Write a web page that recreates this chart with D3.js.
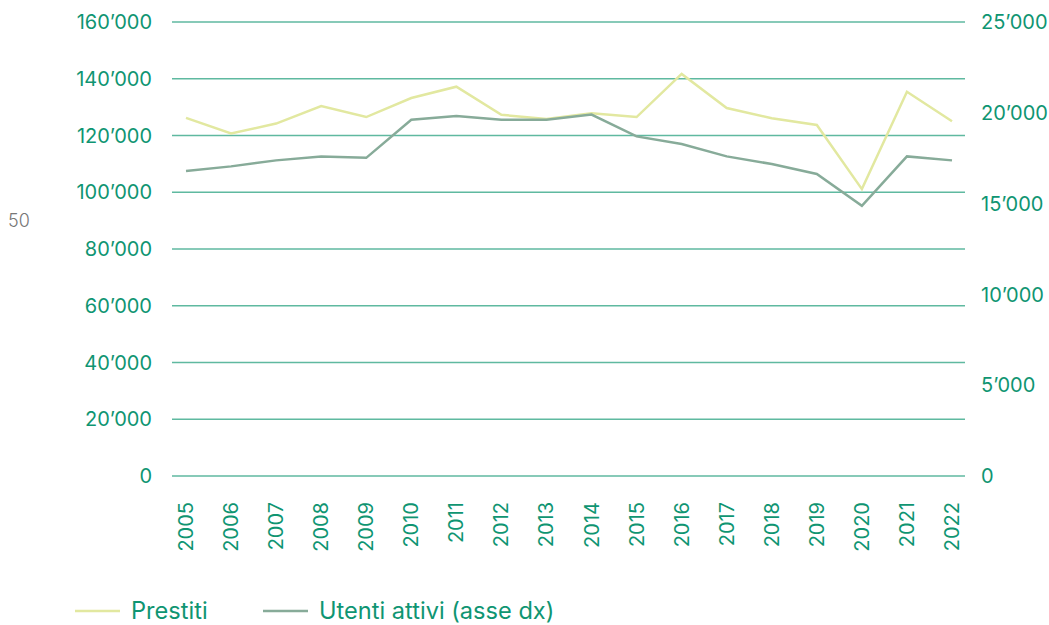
<!DOCTYPE html>
<html>
<head>
<meta charset="utf-8">
<script src="https://d3js.org/d3.v7.min.js"></script>
<style>
body { margin: 0; background: #fff; }
svg { display: block; font-family: Inter, "Noto Sans", sans-serif; }
</style>
</head>
<body>
<svg></svg>
<script>
var width = 1049, height = 625;

// data
var years = [2005, 2006, 2007, 2008, 2009, 2010, 2011, 2012, 2013, 2014, 2015, 2016, 2017, 2018, 2019, 2020, 2021, 2022];
var prestiti = [126200, 120700, 124200, 130400, 126500, 133200, 137200, 127300, 125800, 127800, 126500, 141700, 129700, 126100, 123700, 101100, 135400, 125000];
var utenti = [16800, 17050, 17380, 17600, 17520, 19620, 19830, 19620, 19620, 19900, 18700, 18280, 17600, 17180, 16630, 14880, 17600, 17380];
var leftTicks = [0, 20000, 40000, 60000, 80000, 100000, 120000, 140000, 160000];
var rightTicks = [0, 5000, 10000, 15000, 20000, 25000];

var teal = "#0f9572";
var gridCol = "#5fb9a0";

var svg = d3.select("svg").attr("width", width).attr("height", height);

var x = d3.scalePoint().domain(years).range([186, 952]);
var yL = d3.scaleLinear().domain([0, 160000]).range([476, 22]);
var yR = d3.scaleLinear().domain([0, 25000]).range([476, 22]);

var fmt = function (v) { return d3.format(",")(v).replace(/,/g, "\u2019"); };

// gridlines
svg.append("g").selectAll("line").data(leftTicks).enter().append("line")
	.attr("x1", 172).attr("x2", 965)
	.attr("y1", function (d) { return yL(d); })
	.attr("y2", function (d) { return yL(d); })
	.attr("stroke", gridCol).attr("stroke-width", 1.3);

// left axis labels
svg.append("g").selectAll("text").data(leftTicks).enter().append("text")
	.attr("x", 152).attr("y", function (d) { return yL(d); })
	.attr("dy", "0.36em").attr("text-anchor", "end")
	.attr("fill", teal).style("font-size", "20px")
	.text(fmt);

// right axis labels
svg.append("g").selectAll("text").data(rightTicks).enter().append("text")
	.attr("x", 981).attr("y", function (d) { return yR(d); })
	.attr("dy", "0.36em").attr("text-anchor", "start")
	.attr("fill", teal).style("font-size", "20px")
	.text(fmt);

// year labels, rotated
svg.append("g").selectAll("text").data(years).enter().append("text")
	.attr("transform", function (d) { return "translate(" + (x(d) + 7) + ",502) rotate(-90)"; })
	.attr("text-anchor", "end")
	.attr("fill", teal).style("font-size", "20px")
	.text(function (d) { return d; });

// lines
var lineL = d3.line().x(function (d, i) { return x(years[i]); }).y(function (d) { return yL(d); });
var lineR = d3.line().x(function (d, i) { return x(years[i]); }).y(function (d) { return yR(d); });

svg.append("path").datum(prestiti).attr("d", lineL)
	.attr("fill", "none").attr("stroke", "#e2e8a0").attr("stroke-width", 2.5);
svg.append("path").datum(utenti).attr("d", lineR)
	.attr("fill", "none").attr("stroke", "#87ab99").attr("stroke-width", 2.5);

// page number
svg.append("text").attr("x", 8).attr("y", 227)
	.attr("fill", "#777").style("font-size", "18px").style("font-weight", 300).text("50");

// legend
var legend = [
	{ label: "Prestiti", color: "#e2e8a0", x: 75 },
	{ label: "Utenti attivi (asse dx)", color: "#87ab99", x: 263 }
];
var lg = svg.append("g").selectAll("g").data(legend).enter().append("g");
lg.append("line")
	.attr("x1", function (d) { return d.x; }).attr("x2", function (d) { return d.x + 45; })
	.attr("y1", 611).attr("y2", 611)
	.attr("stroke", function (d) { return d.color; }).attr("stroke-width", 2.5);
lg.append("text")
	.attr("x", function (d) { return d.x + 56; }).attr("y", 611)
	.attr("dy", "0.36em")
	.attr("fill", teal).style("font-size", "23.6px")
	.text(function (d) { return d.label; });
</script>
</body>
</html>
